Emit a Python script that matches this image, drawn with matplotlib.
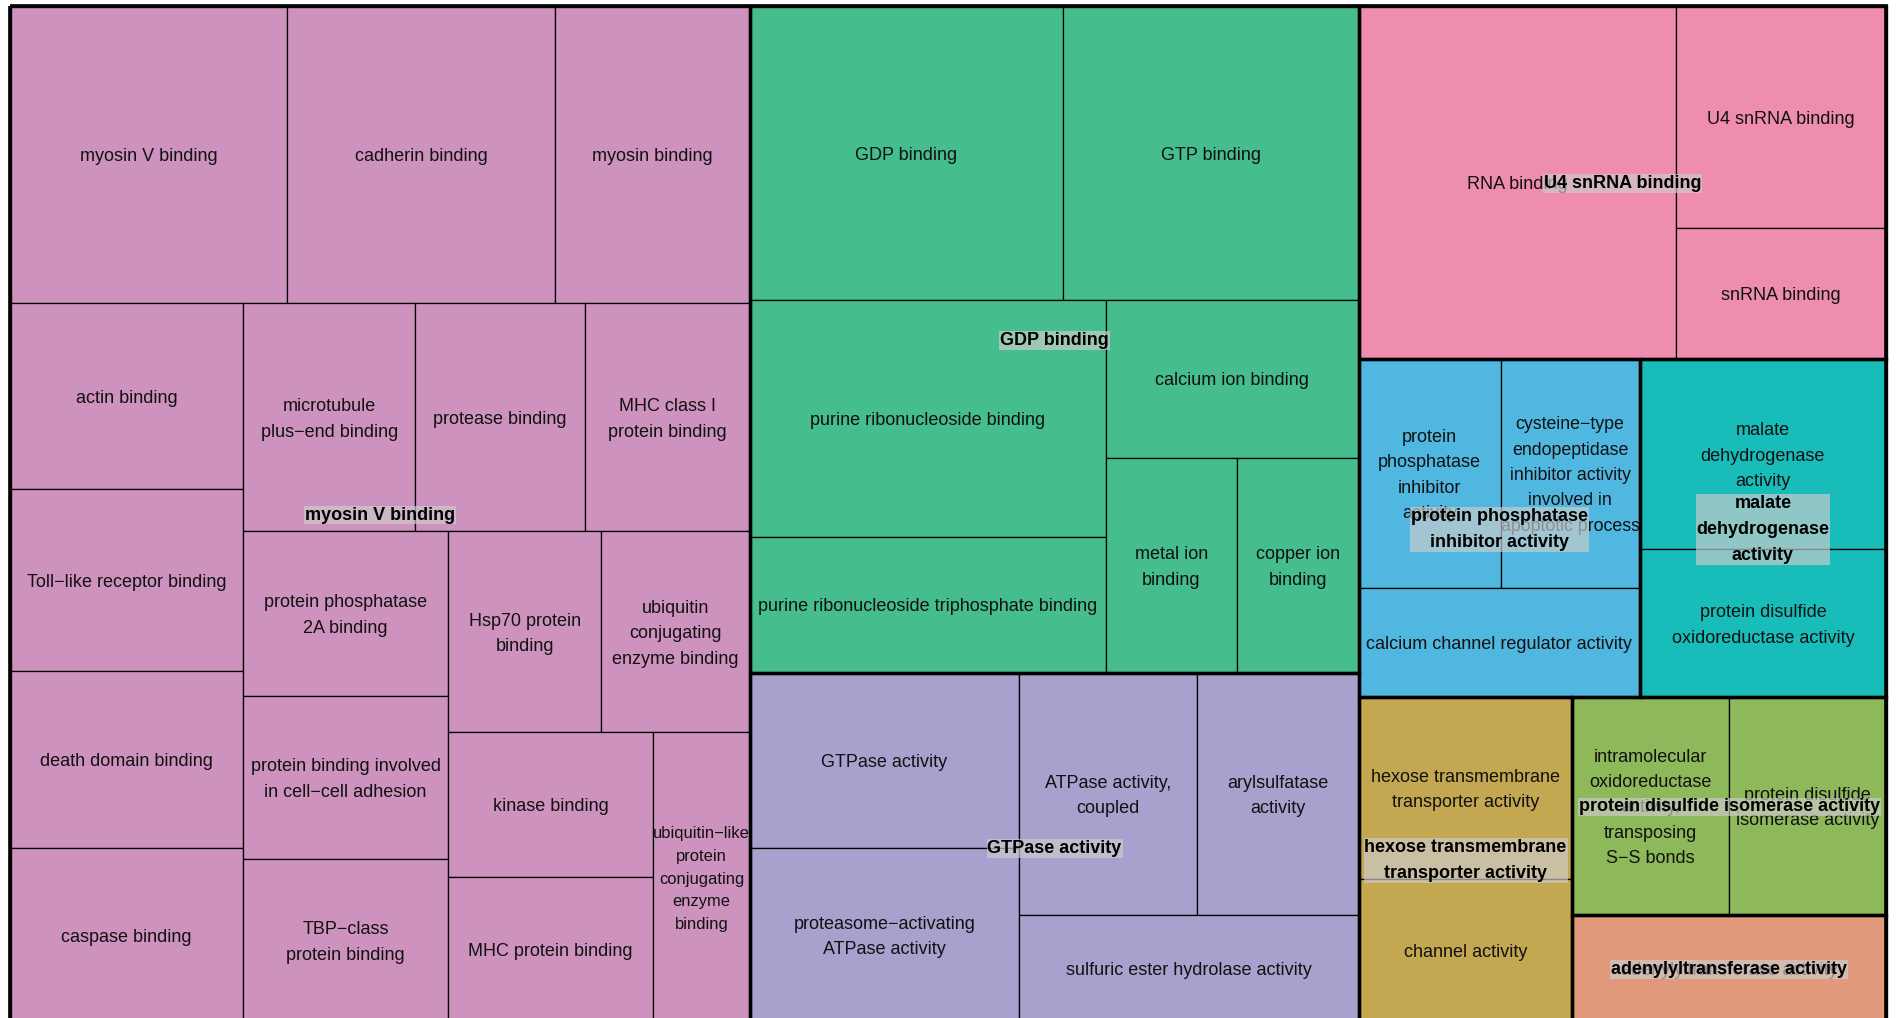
import matplotlib.pyplot as plt
from matplotlib.patches import Rectangle

plt.rcParams['font.family'] = ['Liberation Sans', 'DejaVu Sans']

# term sizes (area of each cell, arbitrary units)
myosin_terms = ["myosin V binding", "cadherin binding", "myosin binding",
                "actin binding", "Toll\u2212like receptor binding", "death domain binding", "caspase binding",
                "microtubule\nplus\u2212end binding", "protease binding", "MHC class I\nprotein binding",
                "protein phosphatase\n2A binding", "protein binding involved\nin cell\u2212cell adhesion",
                "TBP\u2212class\nprotein binding",
                "Hsp70 protein\nbinding", "ubiquitin\nconjugating\nenzyme binding",
                "kinase binding", "MHC protein binding",
                "ubiquitin\u2212like\nprotein\nconjugating\nenzyme\nbinding"]
myosin_values = [82.3, 79.8, 57.9, 43.3, 42.5, 41.2, 40.5, 39.3, 38.6, 37.7,
                 33.8, 33.4, 33.4, 30.8, 29.9, 29.7, 29.7, 28.1]

gdp_terms = ["GDP binding", "GTP binding", "purine ribonucleoside binding",
             "purine ribonucleoside triphosphate binding", "calcium ion binding",
             "metal ion\nbinding", "copper ion\nbinding"]
gdp_values = [92.1, 87.1, 84.1, 48.5, 39.9, 28.2, 26.3]

gtpase_terms = ["GTPase activity", "proteasome\u2212activating\nATPase activity",
                "ATPase activity,\ncoupled", "arylsulfatase\nactivity",
                "sulfuric ester hydrolase activity"]
gtpase_values = [47.1, 46.8, 43.1, 39.2, 36.4]

rna_terms = ["RNA binding", "U4 snRNA binding", "snRNA binding"]
rna_values = [111.8, 46.7, 27.5]

ppi_terms = ["protein\nphosphatase\ninhibitor\nactivity",
             "cysteine\u2212type\nendopeptidase\ninhibitor activity\ninvolved in\napoptotic process",
             "calcium channel regulator activity"]
ppi_values = [32.4, 31.9, 30.7]

malate_terms = ["malate\ndehydrogenase\nactivity", "protein disulfide\noxidoreductase activity"]
malate_values = [46.9, 36.4]

hexose_terms = ["hexose transmembrane\ntransporter activity", "channel activity"]
hexose_values = [38.7, 30.5]

pdi_terms = ["intramolecular\noxidoreductase\nactivity,\ntransposing\nS\u2212S bonds",
             "protein disulfide\nisomerase activity"]
pdi_values = [34.1, 34.1]

adenylyl_terms = ["adenylyltransferase activity"]
adenylyl_values = [33.7]

group_names = ["myosin V binding", "GDP binding", "GTPase activity", "U4 snRNA binding",
               "protein phosphatase\ninhibitor activity", "malate\ndehydrogenase\nactivity",
               "hexose transmembrane\ntransporter activity", "protein disulfide isomerase activity",
               "adenylyltransferase activity"]
group_colors = ['#CE92BE', '#45BD8C', '#AAA0CD', '#EE8DAF', '#50B7E0',
                '#18BDBA', '#C3A851', '#8EB95B', '#E0997B']
group_terms = [myosin_terms, gdp_terms, gtpase_terms, rna_terms, ppi_terms,
               malate_terms, hexose_terms, pdi_terms, adenylyl_terms]
group_values = [myosin_values, gdp_values, gtpase_values, rna_values, ppi_values,
                malate_values, hexose_values, pdi_values, adenylyl_values]

# 'h' = children side by side, 'v' = children stacked
top_layout = ('h', [0, ('v', [1, 2]), ('v', [3, ('h', [4, 5]), ('h', [6, ('v', [7, 8])])])])
group_layouts = [
    ('v', [('h', [0, 1, 2]),
           ('h', [('v', [3, 4, 5, 6]),
                  ('v', [('h', [7, 8, 9]),
                         ('h', [('v', [10, 11, 12]),
                                ('v', [('h', [13, 14]),
                                       ('h', [('v', [15, 16]), 17])])])])])]),
    ('v', [('h', [0, 1]), ('h', [('v', [2, 3]), ('v', [4, ('h', [5, 6])])])]),
    ('h', [('v', [0, 1]), ('v', [('h', [2, 3]), 4])]),
    ('h', [0, ('v', [1, 2])]),
    ('v', [('h', [0, 1]), 2]),
    ('v', [0, 1]),
    ('v', [0, 1]),
    ('h', [0, 1]),
    0,
]


def node_size(node, sizes):
    if isinstance(node, int):
        return sizes[node]
    return sum(node_size(c, sizes) for c in node[1])


def split(node, x, y, w, h, sizes, out):
    if isinstance(node, int):
        out[node] = (x, y, w, h)
        return
    direction, kids = node
    total = node_size(node, sizes)
    for k in kids:
        frac = node_size(k, sizes) / total
        if direction == 'h':
            split(k, x, y, w * frac, h, sizes, out)
            x += w * frac
        else:
            split(k, x, y, w, h * frac, sizes, out)
            y += h * frac


fig = plt.figure(figsize=(19.01, 10.18), dpi=100)
ax = fig.add_axes([0, 0, 1, 1])
ax.set_xlim(0, 1901)
ax.set_ylim(1018, 0)
ax.axis('off')

frame = (10, 6, 1876, 1016)
group_sizes = [sum(v) for v in group_values]
group_rects = {}
split(top_layout, *frame, group_sizes, group_rects)

labels = []
for g in range(len(group_names)):
    gx, gy, gw, gh = group_rects[g]
    rects = {}
    split(group_layouts[g], gx, gy, gw, gh, group_values[g], rects)
    for i, (x, y, w, h) in rects.items():
        ax.add_patch(Rectangle((x, y), w, h, facecolor=group_colors[g],
                               edgecolor='black', linewidth=0.9, zorder=1))
        t = ax.text(x + w / 2, y + h / 2 + 2, group_terms[g][i], ha='center', va='center',
                    fontsize=13, linespacing=1.65, color='#111111', zorder=3)
        labels.append((t, w, h))

for g in range(len(group_names)):
    gx, gy, gw, gh = group_rects[g]
    ax.add_patch(Rectangle((gx, gy), gw, gh, fill=False, edgecolor='black',
                           linewidth=2.4, zorder=2))
    t = ax.text(gx + gw / 2, gy + gh / 2 + 1, group_names[g], ha='center', va='center',
                fontsize=13, fontweight='bold', linespacing=1.7, color='black', zorder=4,
                bbox=dict(boxstyle='square,pad=0.05', facecolor='#CCCCCC',
                          alpha=0.67, edgecolor='none'))
    labels.append((t, gw, gh))

ax.add_patch(Rectangle(frame[:2], frame[2], frame[3], fill=False,
                       edgecolor='black', linewidth=2.6, zorder=2))

# shrink labels that do not fit their cell
fig.canvas.draw()
renderer = fig.canvas.get_renderer()
for t, w, h in labels:
    bb = t.get_window_extent(renderer=renderer)
    scale = min(1.0, (w - 1) / bb.width, (h - 4) / bb.height)
    if scale < 1.0:
        t.set_fontsize(13 * scale)

plt.savefig('out.png', dpi=100)
